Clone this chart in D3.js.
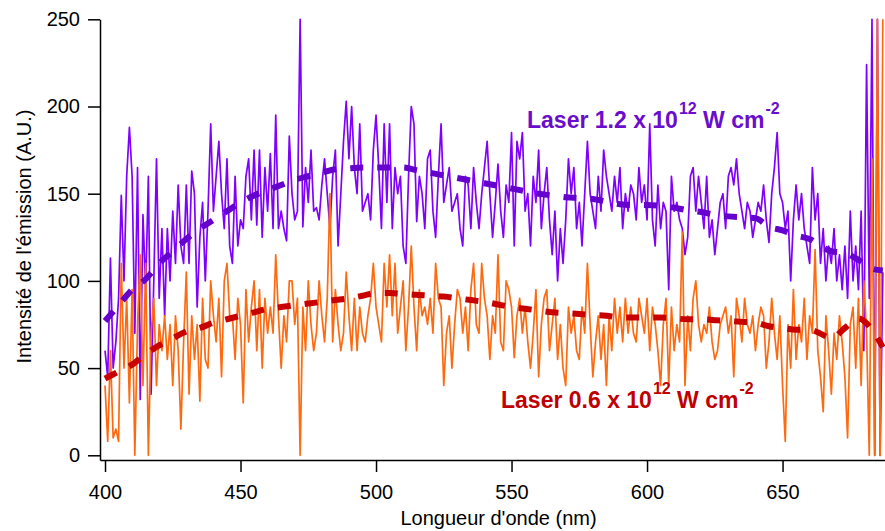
<!DOCTYPE html>
<html><head><meta charset="utf-8">
<script src="https://cdn.jsdelivr.net/npm/d3@7"></script>
<style>
body{margin:0;background:#fff;}
svg{display:block;font-family:"Liberation Sans",Arial,Helvetica,sans-serif;}
</style>
</head><body>
<svg id="chart" width="885" height="531"></svg>
<script>
// ---- data ----
const startNm = 400;   // first sample wavelength (nm)
const stepNm = 1;      // sample spacing (nm)

const purpleValues = [
 60,45,113,50,65,90,149,100,160,188,
 160,70,165,32,138,95,160,35,100,170,
 90,130,80,130,100,140,110,155,120,110,
 155,110,163,150,85,125,145,100,140,190,
 140,160,180,150,130,170,120,110,160,120,
 135,130,160,170,135,175,132,175,125,165,
 140,173,130,195,130,140,130,123,183,150,
 135,140,250,131,165,145,175,140,142,135,
 155,170,150,130,160,175,120,150,180,203,
 170,200,165,150,190,140,145,150,135,175,
 195,165,130,190,145,190,130,165,150,160,
 120,110,160,200,190,134,160,150,130,170,
 175,140,125,160,190,145,155,165,140,145,
 150,130,120,160,155,130,165,145,130,150,
 165,180,150,125,145,167,140,125,155,145,
 185,120,180,170,185,140,150,120,160,145,
 175,130,150,165,135,115,140,100,130,110,
 135,170,150,165,130,145,120,150,180,150,
 140,130,160,140,175,160,150,140,160,145,
 165,130,150,140,155,150,135,165,145,155,
 135,190,135,120,155,130,145,140,95,160,
 140,145,135,130,115,125,160,165,140,160,
 145,130,160,125,135,115,130,145,150,130,
 160,165,155,170,150,140,130,145,140,125,
 135,145,140,155,135,122,150,165,185,150,
 145,130,140,100,135,155,135,150,130,120,
 110,165,135,150,110,130,100,120,110,130,
 100,115,95,120,90,140,100,120,95,140,
 60,224,90,250,0,250,0,105
];

const orangeValues = [
 40,8,60,10,15,8,110,50,90,30,
 95,0,75,115,40,110,0,70,90,40,
 75,60,80,55,75,40,80,60,15,65,
 105,35,80,55,75,31,90,55,50,100,
 80,65,90,45,100,110,80,80,55,90,
 75,30,95,65,85,100,60,95,50,90,
 70,85,70,115,80,50,80,65,100,100,
 75,90,0,85,60,100,75,60,70,100,
 80,65,90,150,65,95,75,60,70,105,
 80,60,90,60,85,70,65,80,90,110,
 85,75,65,110,85,115,80,110,70,85,
 100,60,85,120,85,60,95,80,85,75,
 90,70,110,90,85,40,70,80,50,75,
 95,90,70,85,60,95,110,75,70,110,
 90,80,55,80,70,115,65,60,100,95,
 85,56,80,90,70,85,65,50,70,95,
 45,75,90,95,60,75,90,55,75,50,
 40,85,70,80,60,55,85,70,110,75,
 45,65,80,55,75,40,80,60,90,70,
 85,65,90,70,85,70,65,90,80,70,
 90,60,85,75,60,40,75,90,40,85,
 60,75,65,128,40,80,60,90,100,75,
 65,75,70,85,65,55,60,75,80,85,
 70,80,45,90,80,65,90,75,70,80,
 60,75,85,80,50,65,90,70,55,80,
 40,8,75,50,95,55,75,65,90,55,
 80,70,118,60,45,25,80,60,35,70,
 55,80,65,45,10,75,85,50,90,40,
 100,70,0,170,0,250,0,250
];

const fitNm =     [400,405,410,415,420,425,430,435,440,445,450,455,460,465,470,475,480,485,490,495,500,505,510,515,520,525,530,535,540,545,550,555,560,565,570,575,580,585,590,595,600,605,610,615,620,625,630,635,640,645,650,655,660,665,668,673,678,683,687];
const purpleFit = [77,86,95,101,110,117,124,130,135,140,145,149,152,155,158,160,162,164,164.5,165,165,165,165,163.5,162,160.5,159,157.5,156,154.5,153,151.5,150,149,148,147.5,147,145.5,144,143.5,143.5,143,142,140.5,139.5,138,137,136.5,136,131,129,126,124,119,117,116,112,107,106];
const orangeFit = [44,48,52,58,63,67,71,73,76,78,80,82,84,85,86,87,88,89,90,91.5,93,93,92.5,92,91.5,91,90,89,88,86.5,85,84,83,82,81.5,81,80.5,80,79,79,79,79,78.5,78,78,77.5,77,76.5,76,74,73,72,72,69,67,73,78.5,72,62];

const xTicks = [400,450,500,550,600,650];
const yTicks = [0,50,100,150,200,250];
const xTitle = "Longueur d'onde (nm)";
const yTitle = "Intensité de l'émission (A.U.)";
const legendHigh = ["Laser 1.2 x 10", "12", " W cm", "-2"];
const legendLow  = ["Laser 0.6 x 10", "12", " W cm", "-2"];

// ---- drawing ----
const svg = d3.select("#chart");
const x = d3.scaleLinear().domain([398.15, 687.8]).range([100, 885]);
const y = d3.scaleLinear().domain([-2.7, 250]).range([460, 19.3]);

svg.append("defs").append("clipPath").attr("id","plotclip")
  .append("rect").attr("x",100).attr("y",18).attr("width",786).attr("height",442);

const plot = svg.append("g").attr("clip-path","url(#plotclip)");

const pts = vals => vals.map((v,i) => [startNm + i*stepNm, v]);
const line = d3.line().x(d => x(d[0])).y(d => y(d[1]));

plot.append("path").datum(pts(purpleValues))
  .attr("fill","none").attr("stroke","#8000ff").attr("stroke-width",1.7)
  .attr("stroke-linejoin","round").attr("d",line);
plot.append("path").datum(pts(orangeValues))
  .attr("fill","none").attr("stroke","#ff6a10").attr("stroke-width",1.7)
  .attr("stroke-linejoin","round").attr("d",line);

const fitLine = d3.line().curve(d3.curveMonotoneX).x(d => x(d[0])).y(d => y(d[1]));
plot.append("path").datum(fitNm.map((n,i)=>[n,purpleFit[i]]))
  .attr("fill","none").attr("stroke","#6600cc").attr("stroke-width",6)
  .attr("stroke-dasharray","13,14").attr("d",fitLine);
plot.append("path").datum(fitNm.map((n,i)=>[n,orangeFit[i]]))
  .attr("fill","none").attr("stroke","#c80000").attr("stroke-width",6)
  .attr("stroke-dasharray","13,14").attr("d",fitLine);

// axes
const yAxis = svg.append("g").attr("transform","translate(100,0)")
  .call(d3.axisLeft(y).tickValues(yTicks).tickSize(12).tickSizeOuter(0).tickPadding(8).tickFormat(d3.format("d")));
const xAxis = svg.append("g").attr("transform","translate(0,460)")
  .call(d3.axisBottom(x).tickValues(xTicks).tickSize(12).tickSizeOuter(0).tickPadding(13).tickFormat(d3.format("d")));
[yAxis,xAxis].forEach(a=>{
  a.selectAll("path,line").attr("stroke","#000").attr("stroke-width",1.5);
  a.selectAll("text").attr("fill","#000").style("font-size","20px")
   .style("font-family",'"Liberation Sans",Arial,Helvetica,sans-serif');
});

svg.append("text").attr("x",498.5).attr("y",525).attr("text-anchor","middle")
  .style("font-size","20px").attr("fill","#000").text(xTitle);
svg.append("text").attr("transform","translate(31,236.5) rotate(-90)").attr("text-anchor","middle")
  .style("font-size","20px").attr("fill","#000").text(yTitle);

function legend(parts, xPos, yPos, color){
  const t = svg.append("text").attr("x",xPos).attr("y",yPos)
    .attr("fill",color).style("font-weight","bold").style("font-size","23px");
  t.append("tspan").text(parts[0]);
  t.append("tspan").attr("dx",1).attr("dy",-14).style("font-size","16px").text(parts[1]);
  t.append("tspan").attr("dy",14).text(parts[2]);
  t.append("tspan").attr("dx",1).attr("dy",-14).style("font-size","16px").text(parts[3]);
}
legend(legendHigh, 527, 128, "#6a0dcc");
legend(legendLow, 501, 408, "#c00000");
</script>
</body></html>
